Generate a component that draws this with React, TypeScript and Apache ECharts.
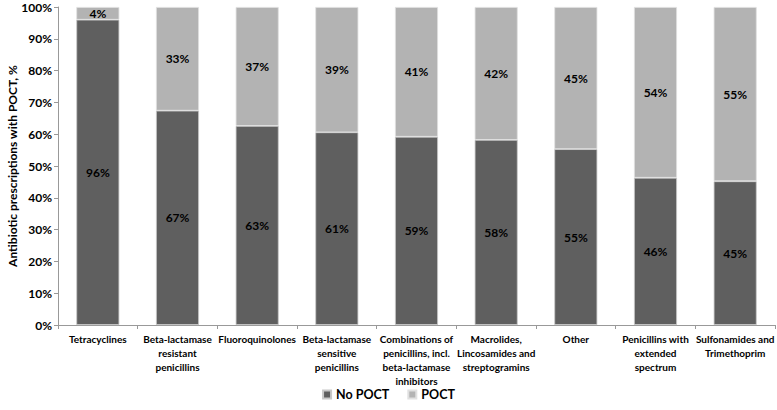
import React, { useEffect, useRef } from "react";
import * as echarts from "echarts";

const categories = [
  "Tetracyclines",
  "Beta-lactamase\nresistant\npenicillins",
  "Fluoroquinolones",
  "Beta-lactamase\nsensitive\npenicillins",
  "Combinations of\npenicillins, incl.\nbeta-lactamase\ninhibitors",
  "Macrolides,\nLincosamides and\nstreptogramins",
  "Other",
  "Penicillins with\nextended\nspectrum",
  "Sulfonamides and\nTrimethoprim",
];
const noPoct = [96.0, 67.4, 62.6, 60.6, 59.2, 58.2, 55.3, 46.3, 45.2];
const poct = [4.0, 32.6, 37.4, 39.4, 40.8, 41.8, 44.7, 53.7, 54.8];
const yTicks = [0, 10, 20, 30, 40, 50, 60, 70, 80, 90, 100];

const FONT = "Lato";

export default function App() {
  const ref = useRef<HTMLDivElement>(null);
  useEffect(() => {
    if (!ref.current) return;
    const chart = echarts.init(ref.current, null, { renderer: "svg" });
    const labelCfg = {
      show: true,
      position: "inside" as const,
      color: "#000",
      fontFamily: FONT,
      fontWeight: "bold" as const,
      fontSize: 12,
      formatter: (p: any) => Math.round(p.value) + "%",
    };
    chart.setOption({
      animation: false,
      backgroundColor: "#fff",
      textStyle: { fontFamily: FONT },
      grid: {
        left: 58,
        right: 2,
        top: 7,
        bottom: 85,
        containLabel: false,
        outerBoundsMode: "none",
      },
      legend: {
        bottom: 4,
        left: "center",
        itemWidth: 8,
        itemHeight: 8,
        itemGap: 18,
        icon: "rect",
        textStyle: { fontFamily: FONT, fontWeight: "bold", fontSize: 12.5, color: "#000" },
        data: ["No POCT", "POCT"],
      },
      xAxis: {
        type: "category",
        data: categories,
        axisLine: { lineStyle: { color: "#999" } },
        axisTick: { show: true, length: 4, lineStyle: { color: "#999" } },
        axisLabel: {
          interval: 0,
          color: "#000",
          fontFamily: FONT,
          fontWeight: "bold",
          fontSize: 10,
          lineHeight: 14,
          margin: 7,
        },
      },
      yAxis: {
        type: "value",
        min: 0,
        max: 100,
        interval: 10,
        name: "Antibiotic prescriptions with POCT, %",
        nameLocation: "middle",
        nameGap: 40,
        nameMoveOverlap: false,
        nameTextStyle: { fontFamily: FONT, fontWeight: "bold", fontSize: 12, color: "#000" },
        axisLine: { show: true, lineStyle: { color: "#999" } },
        axisTick: { show: true, length: 4, lineStyle: { color: "#999" } },
        splitLine: { show: false },
        axisLabel: {
          color: "#000",
          fontFamily: FONT,
          fontWeight: "bold",
          fontSize: 12,
          margin: 6,
          formatter: (v: number) => (yTicks.includes(v) ? v + "%" : ""),
        },
      },
      series: [
        {
          name: "No POCT",
          type: "bar",
          stack: "total",
          data: noPoct,
          barWidth: 43,
          itemStyle: { color: "#5f5f5f", borderColor: "#c8c8c8", borderWidth: 0.8 },
          label: labelCfg,
        },
        {
          name: "POCT",
          type: "bar",
          stack: "total",
          data: poct,
          barWidth: 43,
          itemStyle: { color: "#b3b3b3", borderColor: "#e0e0e0", borderWidth: 0.8 },
          label: labelCfg,
        },
      ],
    });
    return () => chart.dispose();
  }, []);
  return <div ref={ref} style={{ width: 777, height: 410, position: "absolute", left: 0, top: 0 }} />;
}
